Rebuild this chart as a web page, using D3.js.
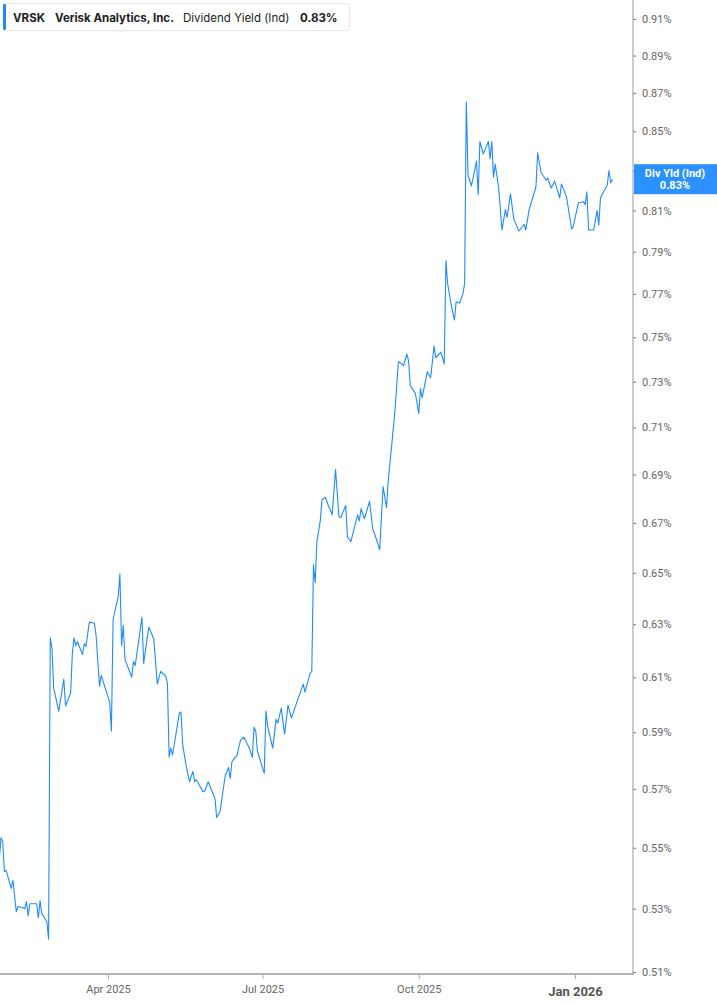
<!DOCTYPE html>
<html lang="en">
<head>
<meta charset="UTF-8">
<title>VRSK Dividend Yield</title>
<script src="https://d3js.org/d3.v7.min.js"></script>
<style>
    * { margin: 0; padding: 0; box-sizing: border-box; }
    body { background: #ffffff; width: 717px; height: 1005px; overflow: hidden; }
    svg { display: block; }
    .tick-label { font-family: Roboto, 'Liberation Sans', sans-serif; font-size: 11px; fill: #666; }
    .head { font-family: Inter, 'Noto Sans', sans-serif; font-size: 11.5px; fill: #222; }
</style>
</head>
<body>
<div id="chart"></div>
<script>
    const dates = [
        "2025-01-27","2025-01-28","2025-01-29","2025-01-30","2025-01-31","2025-02-03","2025-02-04","2025-02-06","2025-02-07","2025-02-10",
        "2025-02-11","2025-02-12","2025-02-13","2025-02-14","2025-02-18","2025-02-19","2025-02-20","2025-02-21","2025-02-24","2025-02-25",
        "2025-02-26","2025-02-27","2025-02-28","2025-03-03","2025-03-06","2025-03-07","2025-03-10","2025-03-11","2025-03-12","2025-03-13",
        "2025-03-14","2025-03-17","2025-03-18","2025-03-19","2025-03-21","2025-03-24","2025-03-25","2025-03-27","2025-03-28","2025-04-02",
        "2025-04-03","2025-04-04","2025-04-07","2025-04-08","2025-04-09","2025-04-10","2025-04-11","2025-04-15","2025-04-16","2025-04-17",
        "2025-04-21","2025-04-22","2025-04-25","2025-04-28","2025-04-30","2025-05-02","2025-05-05","2025-05-06","2025-05-07","2025-05-08",
        "2025-05-09","2025-05-13","2025-05-14","2025-05-15","2025-05-17","2025-05-19","2025-05-21","2025-05-22","2025-05-23","2025-05-27",
        "2025-05-28","2025-05-30","2025-06-03","2025-06-04","2025-06-06","2025-06-09","2025-06-11","2025-06-12","2025-06-13","2025-06-16",
        "2025-06-18","2025-06-20","2025-06-23","2025-06-25","2025-06-26","2025-06-27","2025-06-28","2025-07-02","2025-07-03","2025-07-04",
        "2025-07-07","2025-07-09","2025-07-10","2025-07-12","2025-07-14","2025-07-16","2025-07-18","2025-07-21","2025-07-25","2025-07-26",
        "2025-07-29","2025-07-30","2025-07-31","2025-08-01","2025-08-02","2025-08-04","2025-08-05","2025-08-07","2025-08-09","2025-08-11",
        "2025-08-13","2025-08-15","2025-08-16","2025-08-19","2025-08-20","2025-08-22","2025-08-26","2025-08-27","2025-08-28","2025-08-30",
        "2025-09-02","2025-09-04","2025-09-05","2025-09-08","2025-09-10","2025-09-12","2025-09-13","2025-09-15","2025-09-17","2025-09-19",
        "2025-09-21","2025-09-22","2025-09-24","2025-09-25","2025-09-26","2025-09-29","2025-10-01","2025-10-02","2025-10-03","2025-10-06",
        "2025-10-08","2025-10-10","2025-10-11","2025-10-14","2025-10-16","2025-10-17","2025-10-18","2025-10-20","2025-10-22","2025-10-23",
        "2025-10-25","2025-10-27","2025-10-28","2025-10-29","2025-10-30","2025-11-01","2025-11-04","2025-11-05","2025-11-06","2025-11-08",
        "2025-11-11","2025-11-12","2025-11-13","2025-11-14","2025-11-15","2025-11-17","2025-11-19","2025-11-21","2025-11-22","2025-11-24",
        "2025-11-26","2025-11-29","2025-12-02","2025-12-03","2025-12-05","2025-12-09","2025-12-10","2025-12-12","2025-12-15","2025-12-16",
        "2025-12-18","2025-12-20","2025-12-23","2025-12-24","2025-12-27","2025-12-30","2025-12-31","2026-01-03","2026-01-06","2026-01-07",
        "2026-01-08","2026-01-09","2026-01-12","2026-01-14","2026-01-15","2026-01-16","2026-01-20","2026-01-21","2026-01-22","2026-01-23"
    ];

    // dividend yield, percent
    const yieldPct = [
        0.5464,0.5534,0.5520,0.5421,0.5425,0.5366,0.5392,0.5290,0.5307,0.5303,
        0.5300,0.5323,0.5277,0.5316,0.5316,0.5271,0.5326,0.5284,0.5258,0.5203,
        0.6248,0.6207,0.6060,0.5976,0.6093,0.5995,0.6042,0.6189,0.6248,0.6219,
        0.6233,0.6185,0.6226,0.6215,0.6308,0.6304,0.6256,0.6067,0.6107,0.6009,
        0.5904,0.6320,0.6406,0.6496,0.6219,0.6296,0.6167,0.6100,0.6159,0.6144,
        0.6327,0.6152,0.6289,0.6244,0.6075,0.6122,0.6104,0.6078,0.5811,0.5843,
        0.5818,0.5969,0.5973,0.5854,0.5782,0.5725,0.5761,0.5725,0.5732,0.5690,
        0.5693,0.5725,0.5666,0.5602,0.5622,0.5746,0.5775,0.5736,0.5796,0.5818,
        0.5871,0.5882,0.5846,0.5811,0.5918,0.5904,0.5832,0.5754,0.5976,0.5922,
        0.5843,0.5947,0.5933,0.5987,0.5893,0.5998,0.5951,0.6005,0.6075,0.6045,
        0.6115,0.6122,0.6532,0.6461,0.6624,0.6708,0.6796,0.6804,0.6767,0.6733,
        0.6921,0.6725,0.6721,0.6771,0.6644,0.6624,0.6733,0.6708,0.6758,0.6717,
        0.6788,0.6671,0.6656,0.6592,0.6850,0.6762,0.6875,0.7019,0.7174,0.7389,
        0.7380,0.7371,0.7424,0.7393,0.7283,0.7248,0.7161,0.7270,0.7230,0.7344,
        0.7318,0.7460,0.7407,0.7433,0.7380,0.7857,0.7748,0.7653,0.7579,0.7663,
        0.7658,0.7700,0.7748,0.8653,0.8276,0.8222,0.8347,0.8178,0.8447,0.8384,
        0.8447,0.8358,0.8447,0.8266,0.8332,0.8217,0.8005,0.8105,0.8067,0.8183,
        0.8057,0.8000,0.8033,0.8005,0.8105,0.8217,0.8389,0.8290,0.8251,0.8261,
        0.8212,0.8246,0.8163,0.8232,0.8168,0.8010,0.8024,0.8139,0.8144,0.8129,
        0.8193,0.8005,0.8005,0.8100,0.8029,0.8163,0.8227,0.8300,0.8237,0.8256
    ];

    const yTicks = [0.51,0.53,0.55,0.57,0.59,0.61,0.63,0.65,0.67,0.69,0.71,0.73,0.75,0.77,0.79,0.81,0.83,0.85,0.87,0.89,0.91];
    const xTicks = ["2025-04-01","2025-07-01","2025-10-01","2026-01-01"];
    const xTickLabels = ["Apr 2025","Jul 2025","Oct 2025","Jan 2026"];

    const ticker = "VRSK";
    const company = "Verisk Analytics, Inc.";
    const metric = "Dividend Yield (Ind)";
    const badgeLabel = "Div Yld (Ind)";

    const W = 717, H = 1005;
    const plotRight = 633, plotBottom = 974;
    const blue = "#1f8bff";
    const parse = d3.timeParse("%Y-%m-%d");

    const data = dates.map((d, i) => ({ date: parse(d), value: yieldPct[i] }));
    const last = data[data.length - 1];
    const fmt = v => v.toFixed(2) + "%";

    const svg = d3.select("#chart").append("svg")
        .attr("width", W)
        .attr("height", H);

    // time axis anchored on the quarter ticks
    const x = d3.scaleTime()
        .domain([parse("2025-04-01"), parse("2026-01-01")])
        .range([108, 575]);

    const y = d3.scaleLog()
        .domain([0.51, 0.91])
        .range([972, 19]);

    svg.append("defs").append("clipPath").attr("id", "plot")
        .append("rect").attr("x", 0).attr("y", 0).attr("width", plotRight).attr("height", plotBottom);

    // line
    svg.append("path")
        .datum(data)
        .attr("clip-path", "url(#plot)")
        .attr("fill", "none")
        .attr("stroke", blue)
        .attr("stroke-width", 1.1)
        .attr("stroke-linejoin", "round")
        .attr("d", d3.line().x(d => x(d.date)).y(d => y(d.value)));

    // right axis
    const yAxis = svg.append("g")
        .attr("transform", `translate(${plotRight},0)`)
        .call(d3.axisRight(y).tickValues(yTicks).tickSize(3).tickPadding(6).tickFormat(fmt));
    yAxis.select(".domain").remove();
    yAxis.selectAll(".tick line").attr("stroke", "#777");
    yAxis.selectAll(".tick text").attr("class", "tick-label").attr("fill", null);

    svg.append("line")
        .attr("x1", plotRight).attr("x2", plotRight)
        .attr("y1", 0).attr("y2", plotBottom)
        .attr("stroke", "#999").attr("stroke-width", 1);

    // bottom axis
    const xAxis = svg.append("g")
        .attr("transform", `translate(0,${plotBottom})`)
        .call(d3.axisBottom(x).tickValues(xTicks.map(parse)).tickSize(5).tickPadding(5)
            .tickFormat((d, i) => xTickLabels[i]));
    xAxis.select(".domain").remove();
    xAxis.selectAll(".tick line").attr("stroke", "#aaa");
    xAxis.selectAll(".tick text").attr("class", "tick-label").attr("fill", null)
        .attr("dy", "0.85em");
    xAxis.selectAll(".tick text").filter((d, i) => i === xTicks.length - 1)
        .style("font-size", "13px").style("font-weight", "700").style("fill", "#555")
        .attr("dy", "0.95em");

    svg.append("line")
        .attr("x1", 0).attr("x2", plotRight + 1)
        .attr("y1", plotBottom).attr("y2", plotBottom)
        .attr("stroke", "#b3b3b3").attr("stroke-width", 2);

    // last value badge
    const by = y(last.value);
    const badge = svg.append("g");
    badge.append("rect")
        .attr("x", plotRight + 1).attr("y", by - 15)
        .attr("width", W - plotRight).attr("height", 30)
        .attr("fill", blue).attr("opacity", 0.95);
    badge.append("text")
        .attr("x", 675).attr("y", by - 2)
        .attr("text-anchor", "middle")
        .attr("font-family", "Roboto, sans-serif").attr("font-size", 11).attr("font-weight", 700)
        .attr("fill", "#fff")
        .text(badgeLabel);
    badge.append("text")
        .attr("x", 675).attr("y", by + 10)
        .attr("text-anchor", "middle")
        .attr("font-family", "Roboto, sans-serif").attr("font-size", 11).attr("font-weight", 700)
        .attr("fill", "#fff")
        .text(fmt(last.value));

    // header legend
    const head = svg.append("g");
    head.append("rect")
        .attr("x", 3.5).attr("y", 3.5).attr("width", 346).attr("height", 27).attr("rx", 3)
        .attr("fill", "#fff").attr("stroke", "#e6e6e6");
    head.append("rect")
        .attr("x", 3).attr("y", 4).attr("width", 3).attr("height", 26).attr("rx", 1)
        .attr("fill", blue);
    const headText = head.append("text").attr("class", "head").attr("x", 13).attr("y", 21.5);
    headText.append("tspan").attr("font-weight", 700).text(ticker);
    headText.append("tspan").attr("x", 55).attr("font-weight", 700).text(company);
    headText.append("tspan").attr("x", 183).text(metric);
    headText.append("tspan").attr("x", 300).attr("font-weight", 700).text(fmt(last.value));
</script>
</body>
</html>
